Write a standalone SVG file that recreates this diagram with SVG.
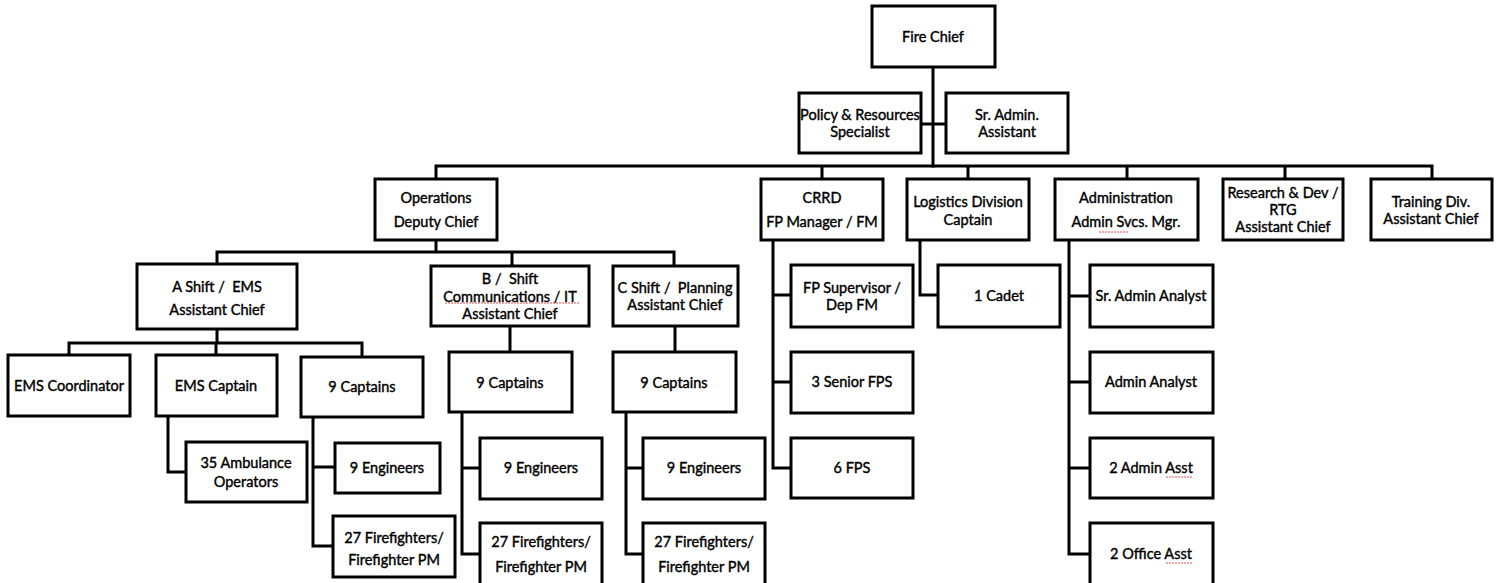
<svg xmlns="http://www.w3.org/2000/svg" width="1501" height="583" viewBox="0 0 1501 583">
<style>
.b{fill:#fff;stroke:#000;stroke-width:3}
.c{fill:none;stroke:#000;stroke-width:3;stroke-linejoin:miter;stroke-linecap:square}
text{font-family:Lato,"Open Sans","Liberation Sans",sans-serif;font-size:14.5px;fill:#000;stroke:#000;stroke-width:0.4;text-anchor:middle;white-space:pre}
.sq{fill:none;stroke:#e05050;stroke-width:1;stroke-dasharray:2 1}
</style>
<rect width="1501" height="583" fill="#fff"/>
<g id="connectors">
<path class="c" d="M933 67V166M921 124H946"/>
<path class="c" d="M436 179V166H1432V179M822 166V179M968 166V179M1127 166V179M1285 166V179"/>
<path class="c" d="M436 240V252M217 264V252H674V266M512 252V266"/>
<path class="c" d="M217 329V343M69 355V343H362V357M216 343V355"/>
<path class="c" d="M168 416V472H186"/>
<path class="c" d="M313 417V546H332M313 467H335"/>
<path class="c" d="M510 326V352M462 412V554H480M462 468H480"/>
<path class="c" d="M675 326V352M626 412V554H643M626 468H643"/>
<path class="c" d="M773 240V468H791M773 295H791M773 382H791"/>
<path class="c" d="M920 240V295H938"/>
<path class="c" d="M1069 240V554H1090M1069 296H1090M1069 382H1090M1069 468H1090"/>
</g>
<g id="fire-chief"><rect class="b" x="872" y="6" width="123" height="61"/><text x="933" y="42">Fire Chief</text></g>
<g id="policy"><rect class="b" x="799" y="93" width="122" height="60"/><text x="860" y="120">Policy &amp; Resources</text><text x="860" y="137">Specialist</text></g>
<g id="sr-admin"><rect class="b" x="946" y="93" width="122" height="60"/><text x="1007" y="120">Sr. Admin.</text><text x="1007" y="137">Assistant</text></g>
<g id="operations"><rect class="b" x="375" y="179" width="122" height="61"/><text x="436" y="203">Operations</text><text x="436" y="227">Deputy Chief</text></g>
<g id="crrd"><rect class="b" x="761" y="179" width="122" height="61"/><text x="822" y="203">CRRD</text><text x="822" y="227">FP Manager / FM</text></g>
<g id="logistics"><rect class="b" x="907" y="179" width="122" height="61"/><text x="968" y="207">Logistics Division</text><text x="968" y="225">Captain</text></g>
<g id="administration"><rect class="b" x="1055" y="179" width="143" height="61"/><text x="1126" y="203">Administration</text><text x="1126" y="227">Admin Svcs. Mgr.</text><path class="sq" d="M1099 232H1128"/></g>
<g id="research"><rect class="b" x="1223" y="179" width="120" height="61"/><text x="1283" y="198">Research &amp; Dev /</text><text x="1283" y="215">RTG</text><text x="1283" y="232">Assistant Chief</text></g>
<g id="training"><rect class="b" x="1371" y="179" width="121" height="61"/><text x="1431" y="207">Training Div.</text><text x="1431" y="224">Assistant Chief</text></g>
<g id="a-shift"><rect class="b" x="137" y="264" width="160" height="65"/><text x="217" y="292">A Shift /  EMS</text><text x="217" y="315">Assistant Chief</text></g>
<g id="b-shift"><rect class="b" x="431" y="266" width="158" height="60"/><text x="510" y="284">B /  Shift</text><text x="510" y="302">Communications / IT</text><text x="510" y="319">Assistant Chief</text><path class="sq" d="M445 303H580"/></g>
<g id="c-shift"><rect class="b" x="613" y="266" width="125" height="60"/><text x="675" y="293">C Shift /  Planning</text><text x="675" y="310">Assistant Chief</text></g>
<g id="ems-coordinator"><rect class="b" x="8" y="355" width="122" height="61"/><text x="69" y="391">EMS Coordinator</text></g>
<g id="ems-captain"><rect class="b" x="156" y="355" width="121" height="61"/><text x="216" y="391">EMS Captain</text></g>
<g id="a-captains"><rect class="b" x="301" y="357" width="122" height="60"/><text x="362" y="392">9 Captains</text></g>
<g id="ambulance"><rect class="b" x="186" y="442" width="121" height="60"/><text x="246" y="468">35 Ambulance</text><text x="246" y="487">Operators</text></g>
<g id="a-engineers"><rect class="b" x="335" y="443" width="105" height="50"/><text x="387" y="473">9 Engineers</text></g>
<g id="a-firefighters"><rect class="b" x="333" y="516" width="122" height="61"/><text x="394" y="543">27 Firefighters/</text><text x="394" y="565">Firefighter PM</text></g>
<g id="b-captains"><rect class="b" x="449" y="352" width="123" height="60"/><text x="510" y="388">9 Captains</text></g>
<g id="b-engineers"><rect class="b" x="480" y="438" width="122" height="61"/><text x="541" y="473">9 Engineers</text></g>
<g id="b-firefighters"><rect class="b" x="480" y="523" width="122" height="63"/><text x="541" y="547">27 Firefighters/</text><text x="541" y="572">Firefighter PM</text></g>
<g id="c-captains"><rect class="b" x="613" y="352" width="123" height="60"/><text x="674" y="388">9 Captains</text></g>
<g id="c-engineers"><rect class="b" x="643" y="438" width="122" height="61"/><text x="704" y="473">9 Engineers</text></g>
<g id="c-firefighters"><rect class="b" x="643" y="523" width="122" height="63"/><text x="704" y="547">27 Firefighters/</text><text x="704" y="572">Firefighter PM</text></g>
<g id="fp-supervisor"><rect class="b" x="791" y="265" width="122" height="62"/><text x="852" y="293">FP Supervisor /</text><text x="852" y="310">Dep FM</text></g>
<g id="senior-fps"><rect class="b" x="791" y="352" width="122" height="61"/><text x="852" y="387">3 Senior FPS</text></g>
<g id="fps"><rect class="b" x="791" y="438" width="122" height="60"/><text x="852" y="473">6 FPS</text></g>
<g id="cadet"><rect class="b" x="938" y="265" width="122" height="62"/><text x="999" y="301">1 Cadet</text></g>
<g id="sr-admin-analyst"><rect class="b" x="1090" y="265" width="123" height="62"/><text x="1151" y="301">Sr. Admin Analyst</text></g>
<g id="admin-analyst"><rect class="b" x="1090" y="352" width="123" height="61"/><text x="1151" y="387">Admin Analyst</text></g>
<g id="admin-asst"><rect class="b" x="1090" y="438" width="123" height="60"/><text x="1151" y="473">2 Admin Asst</text><path class="sq" d="M1166 477H1193"/></g>
<g id="office-asst"><rect class="b" x="1090" y="523" width="123" height="63"/><text x="1151" y="559">2 Office Asst</text><path class="sq" d="M1166 563H1193"/></g>
</svg>
